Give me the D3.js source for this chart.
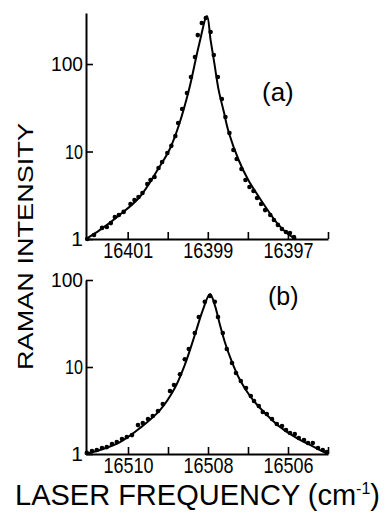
<!DOCTYPE html>
<html>
<head>
<meta charset="utf-8">
<script src="https://cdn.jsdelivr.net/npm/d3@7"></script>
<style>
  body { margin: 0; background: #fff; }
  svg { display: block; font-family: "Liberation Sans", Arial, sans-serif; }
</style>
</head>
<body>
<svg id="chart" width="387" height="529"></svg>
<script>
// panel (a): measured points and fitted curve
const aDotFreq = [16402.01, 16401.84, 16401.64, 16401.52, 16401.42, 16401.32, 16401.22, 16401.10, 16400.93, 16400.83,
  16400.73, 16400.63, 16400.51, 16400.43, 16400.33, 16400.23, 16400.14, 16400.01, 16399.91, 16399.81,
  16399.74, 16399.64, 16399.52, 16399.42, 16399.32, 16399.25, 16399.15, 16399.05, 16398.93, 16398.85,
  16398.75, 16398.65, 16398.56, 16398.46, 16398.36, 16398.28, 16398.16, 16398.06, 16397.96, 16397.86,
  16397.77, 16397.67, 16397.57, 16397.44, 16397.35, 16397.25, 16397.15, 16397.05, 16396.95, 16396.85];
const aDotInt = [1.00, 1.11, 1.34, 1.37, 1.52, 1.78, 1.88, 2.04, 2.51, 2.79,
  3.02, 3.36, 4.25, 4.72, 5.11, 6.48, 7.59, 9.6, 11.6, 15.0,
  21.2, 30.6, 46.6, 71, 120, 214, 294, 336, 232, 127,
  71, 39.8, 24.8, 16.3, 10.4, 8.2, 6.3, 4.72, 3.93, 3.54,
  2.94, 2.51, 2.14, 1.88, 1.65, 1.45, 1.30, 1.20, 1.17, 1.05];
const aFitFreq = [16402.04, 16401.69, 16401.20, 16400.70, 16400.21, 16399.96, 16399.72, 16399.47, 16399.22, 16399.02,
  16398.93, 16398.83, 16398.73, 16398.60, 16398.48, 16398.23, 16397.99, 16397.74, 16397.49, 16397.25, 16397.00, 16396.80];
const aFitInt = [1.0, 1.27, 1.88, 3.02, 6.65, 10.4, 20.1, 50.7, 165, 354,
  188, 97.6, 50.7, 28.4, 16.7, 8.0, 4.72, 3.10, 2.09, 1.48, 1.14, 1.0];
const aTicks = [16401, 16400, 16399, 16398, 16397, 16396];
const aLabels = [16401, 16399, 16397];

// panel (b)
const bDotFreq = [16511.03, 16510.90, 16510.78, 16510.65, 16510.53, 16510.40, 16510.28, 16510.15, 16510.03, 16509.90,
  16509.75, 16509.63, 16509.50, 16509.38, 16509.25, 16509.13, 16508.95, 16508.85, 16508.70, 16508.58,
  16508.48, 16508.33, 16508.23, 16508.08, 16507.95, 16507.83, 16507.75, 16507.63, 16507.53, 16507.40,
  16507.30, 16507.18, 16507.05, 16506.93, 16506.85, 16506.73, 16506.63, 16506.53, 16506.40, 16506.28,
  16506.15, 16506.05, 16505.95, 16505.83, 16505.73, 16505.60, 16505.50, 16505.38, 16505.25, 16505.13, 16505.03];
const bDotInt = [1.03, 1.08, 1.11, 1.17, 1.20, 1.30, 1.37, 1.49, 1.57, 1.65,
  2.15, 2.27, 2.53, 2.73, 3.12, 3.76, 5.30, 6.21, 8.27, 12.3,
  16.1, 24.6, 37.6, 56.2, 65.5, 56.2, 37.6, 24.6, 16.1, 11.1,
  8.53, 6.90, 5.74, 4.64, 4.07, 3.56, 3.04, 2.88, 2.53, 2.21,
  2.10, 1.89, 1.74, 1.70, 1.53, 1.45, 1.34, 1.34, 1.17, 1.11, 1.05];
const bFitFreq = [16511.05, 16510.70, 16510.20, 16509.70, 16509.20, 16508.83, 16508.58, 16508.33, 16508.13, 16507.95,
  16507.83, 16507.70, 16507.58, 16507.40, 16507.20, 16506.95, 16506.70, 16506.45, 16506.20, 16505.95,
  16505.70, 16505.45, 16505.20, 16505.00];
const bFitInt = [1.0, 1.11, 1.37, 1.99, 3.20, 5.74, 10.6, 23.3, 45.1, 69.0,
  51.5, 30.4, 19.4, 11.4, 7.09, 4.64, 3.38, 2.59, 2.04, 1.70,
  1.45, 1.27, 1.11, 1.0];
const bTicks = [16510, 16509, 16508, 16507, 16506, 16505];
const bLabels = [16510, 16508, 16506];

const yTicks = [1, 10, 100];

const svg = d3.select('#chart');

function drawPanel(p) {
  const x = d3.scaleLinear().domain(p.xDomain).range([86, 328]);
  const y = d3.scaleLog().domain(p.yDomain).range([p.yBottom, p.yTop]);
  const g = svg.append('g');

  // x axis, ticks pointing inward
  const xa = g.append('g')
    .attr('transform', `translate(0,${p.yBottom})`)
    .call(d3.axisBottom(x).tickValues(p.ticks).tickSizeInner(-7).tickSizeOuter(0)
      .tickFormat(d => p.labels.includes(d) ? d : ''));
  xa.select('.domain').attr('stroke-width', 2);
  xa.selectAll('.tick line').attr('stroke-width', 1.6);
  xa.selectAll('.tick text')
    .attr('y', 19).attr('dy', 0)
    .attr('font-size', 22).attr('fill', '#000')
    .attr('textLength', d => p.labels.includes(d) ? 50 : null)
    .attr('lengthAdjust', 'spacingAndGlyphs');

  // y axis
  const ya = g.append('g')
    .attr('transform', 'translate(86,0)')
    .call(d3.axisLeft(y).tickValues(yTicks.filter(v => v <= p.yDomain[1]))
      .tickSizeInner(-7).tickSizeOuter(0).tickPadding(3).tickFormat(d3.format('d')));
  ya.select('.domain').attr('stroke-width', 2);
  ya.selectAll('.tick line').attr('stroke-width', 1.6);
  ya.selectAll('.tick text')
    .attr('font-size', 21).attr('fill', '#000')
    .attr('textLength', d => d === 100 ? 32 : d === 10 ? 18 : null)
    .attr('lengthAdjust', 'spacingAndGlyphs');

  // fitted curve
  const fit = p.fitFreq.map((f, i) => [f, p.fitInt[i]]);
  g.append('path')
    .datum(fit)
    .attr('fill', 'none')
    .attr('stroke', '#000')
    .attr('stroke-width', 2)
    .attr('d', d3.line().x(d => x(d[0])).y(d => y(d[1])).curve(d3.curveCatmullRom));

  // measured points
  g.selectAll('circle')
    .data(p.dotFreq.map((f, i) => [f, p.dotInt[i]]))
    .join('circle')
    .attr('cx', d => x(d[0]))
    .attr('cy', d => y(d[1]))
    .attr('r', 2.3)
    .attr('fill', '#000');

  g.append('text')
    .attr('x', p.tagX).attr('y', p.tagY)
    .attr('font-size', p.tagSize)
    .text(p.tag);
}

drawPanel({
  xDomain: [16402.04, 16396.0], yDomain: [1, 383], yBottom: 239, yTop: 13,
  ticks: aTicks, labels: aLabels,
  dotFreq: aDotFreq, dotInt: aDotInt, fitFreq: aFitFreq, fitInt: aFitInt,
  tag: '(a)', tagX: 262, tagY: 101, tagSize: 26
});

drawPanel({
  xDomain: [16511.05, 16505.0], yDomain: [1, 100], yBottom: 454, yTop: 280,
  ticks: bTicks, labels: bLabels,
  dotFreq: bDotFreq, dotInt: bDotInt, fitFreq: bFitFreq, fitInt: bFitInt,
  tag: '(b)', tagX: 268, tagY: 305, tagSize: 25
});

// axis titles
svg.append('text')
  .attr('transform', 'translate(33,246.5) rotate(-90)')
  .attr('text-anchor', 'middle')
  .attr('font-size', 22)
  .attr('textLength', 247)
  .attr('lengthAdjust', 'spacingAndGlyphs')
  .text('RAMAN INTENSITY');

const xt = svg.append('text')
  .attr('x', 15).attr('y', 505)
  .attr('font-size', 29);
xt.append('tspan').text('LASER FREQUENCY (cm');
xt.append('tspan').attr('font-size', 16).attr('dy', -11).text('-1');
xt.append('tspan').attr('dy', 11).text(')');
</script>
</body>
</html>
